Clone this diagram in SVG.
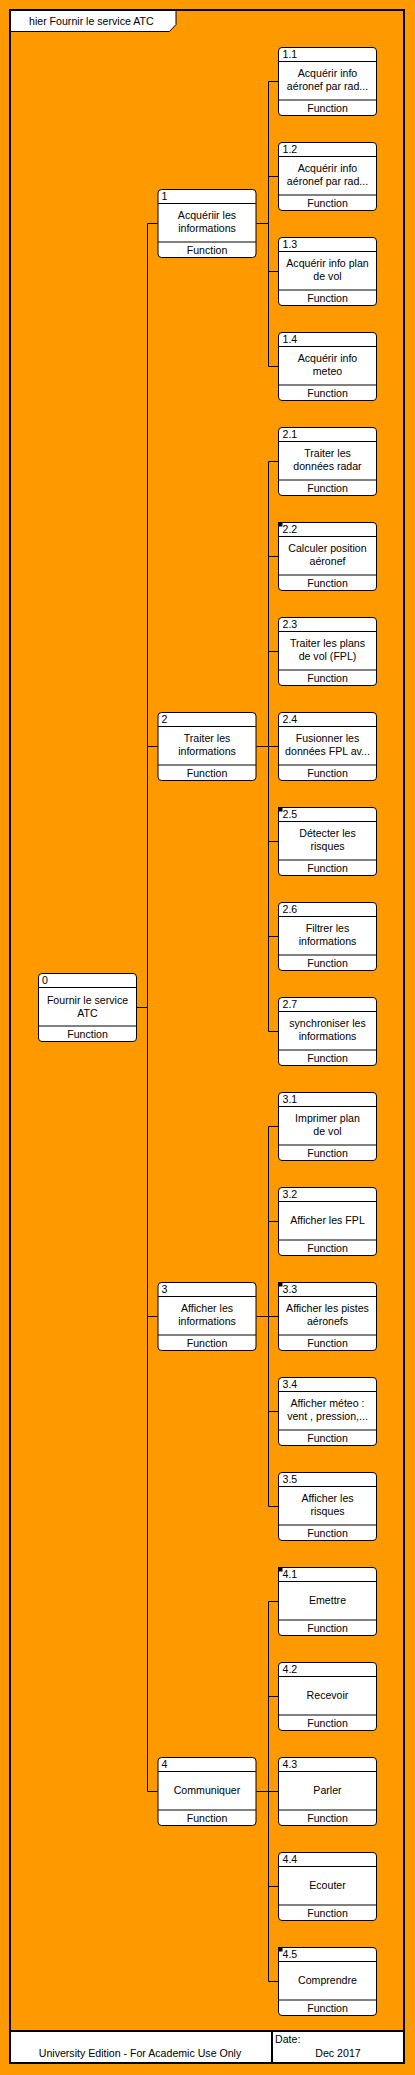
<svg xmlns="http://www.w3.org/2000/svg" width="415" height="2075" viewBox="0 0 415 2075">
<style>
.bg{fill:#FF9900}
.frame{fill:none;stroke:#000;stroke-width:2}
.box{fill:#fff;stroke:#000;stroke-width:1}
.sep{stroke:#000;stroke-width:1}
.t{font-family:"Liberation Sans",Arial,sans-serif;font-size:10.6px;fill:#000}
.c{text-anchor:middle}
.conn{fill:none;stroke:#000;stroke-width:1}
.mk{fill:#000}
</style>
<defs>
<g id="nb">
<rect class="box" x="0.5" y="0.5" width="98" height="68" rx="3.5"/>
<line class="sep" x1="0.5" y1="14.5" x2="98.5" y2="14.5"/>
<line class="sep" x1="0.5" y1="53" x2="98.5" y2="53"/>
<text class="t c" x="49.5" y="65">Function</text>
</g>
<rect id="mark" class="mk" x="0" y="0" width="4.5" height="4.5"/>
</defs>
<rect class="bg" x="0" y="0" width="415" height="2075"/>
<rect class="frame" x="10" y="10" width="394" height="2053"/>
<g id="title">
<path d="M10.5 10.5 H176 V24.5 L169.5 31.5 H10.5 Z" fill="#fff" stroke="#000" stroke-width="1"/>
<text class="t" x="29" y="24.5">hier Fournir le service ATC</text>
</g>
<g id="connectors" class="conn">
<path d="M136.5 1007.5 H147.5 M147.5 223.5 V1791.5 M147.5 223.5 H157.5 M147.5 746.5 H157.5 M147.5 1316.5 H157.5 M147.5 1791.5 H157.5"/>
<path d="M256.5 223.5 H268.5 M268.5 81.5 V366.5 M268.5 81.5 H278.5 M268.5 176.5 H278.5 M268.5 271.5 H278.5 M268.5 366.5 H278.5"/>
<path d="M256.5 746.5 H268.5 M268.5 461.5 V1031.5 M268.5 461.5 H278.5 M268.5 556.5 H278.5 M268.5 651.5 H278.5 M268.5 746.5 H278.5 M268.5 841.5 H278.5 M268.5 936.5 H278.5 M268.5 1031.5 H278.5"/>
<path d="M256.5 1316.5 H268.5 M268.5 1126.5 V1506.5 M268.5 1126.5 H278.5 M268.5 1221.5 H278.5 M268.5 1316.5 H278.5 M268.5 1411.5 H278.5 M268.5 1506.5 H278.5"/>
<path d="M256.5 1791.5 H268.5 M268.5 1601.5 V1981.5 M268.5 1601.5 H278.5 M268.5 1696.5 H278.5 M268.5 1791.5 H278.5 M268.5 1886.5 H278.5 M268.5 1981.5 H278.5"/>
</g>
<g id="n0" transform="translate(38,973)"><use href="#nb"/><text class="t" x="4" y="10.5">0</text><text class="t c" x="49.5" y="31">Fournir le service</text><text class="t c" x="49.5" y="44">ATC</text></g>
<g id="n1" transform="translate(157.5,189)"><use href="#nb"/><text class="t" x="4" y="10.5">1</text><text class="t c" x="49.5" y="30">Acquériir les</text><text class="t c" x="49.5" y="43.3">informations</text></g>
<g id="n2" transform="translate(157.5,712)"><use href="#nb"/><text class="t" x="4" y="10.5">2</text><text class="t c" x="49.5" y="30">Traiter les</text><text class="t c" x="49.5" y="43.3">informations</text></g>
<g id="n3" transform="translate(157.5,1282)"><use href="#nb"/><text class="t" x="4" y="10.5">3</text><text class="t c" x="49.5" y="30">Afficher les</text><text class="t c" x="49.5" y="43.3">informations</text></g>
<g id="n4" transform="translate(157.5,1757)"><use href="#nb"/><text class="t" x="4" y="10.5">4</text><text class="t c" x="49.5" y="37">Communiquer</text></g>
<g id="n1_1" transform="translate(278,47)"><use href="#nb"/><text class="t" x="4.5" y="10.5">1.1</text><text class="t c" x="49.5" y="30">Acquérir info</text><text class="t c" x="49.5" y="43.3">aéronef par rad...</text></g>
<g id="n1_2" transform="translate(278,142)"><use href="#nb"/><text class="t" x="4.5" y="10.5">1.2</text><text class="t c" x="49.5" y="30">Acquérir info</text><text class="t c" x="49.5" y="43.3">aéronef par rad...</text></g>
<g id="n1_3" transform="translate(278,237)"><use href="#nb"/><text class="t" x="4.5" y="10.5">1.3</text><text class="t c" x="49.5" y="30">Acquérir info plan</text><text class="t c" x="49.5" y="43.3">de vol</text></g>
<g id="n1_4" transform="translate(278,332)"><use href="#nb"/><text class="t" x="4.5" y="10.5">1.4</text><text class="t c" x="49.5" y="30">Acquérir info</text><text class="t c" x="49.5" y="43.3">meteo</text></g>
<g id="n2_1" transform="translate(278,427)"><use href="#nb"/><text class="t" x="4.5" y="10.5">2.1</text><text class="t c" x="49.5" y="30">Traiter les</text><text class="t c" x="49.5" y="43.3">données radar</text></g>
<g id="n2_2" transform="translate(278,522)"><use href="#nb"/><use href="#mark"/><text class="t" x="4.5" y="10.5">2.2</text><text class="t c" x="49.5" y="30">Calculer position</text><text class="t c" x="49.5" y="43.3">aéronef</text></g>
<g id="n2_3" transform="translate(278,617)"><use href="#nb"/><text class="t" x="4.5" y="10.5">2.3</text><text class="t c" x="49.5" y="30">Traiter les plans</text><text class="t c" x="49.5" y="43.3">de vol (FPL)</text></g>
<g id="n2_4" transform="translate(278,712)"><use href="#nb"/><text class="t" x="4.5" y="10.5">2.4</text><text class="t c" x="49.5" y="30">Fusionner les</text><text class="t c" x="49.5" y="43.3">données FPL av...</text></g>
<g id="n2_5" transform="translate(278,807)"><use href="#nb"/><use href="#mark"/><text class="t" x="4.5" y="10.5">2.5</text><text class="t c" x="49.5" y="30">Détecter les</text><text class="t c" x="49.5" y="43.3">risques</text></g>
<g id="n2_6" transform="translate(278,902)"><use href="#nb"/><text class="t" x="4.5" y="10.5">2.6</text><text class="t c" x="49.5" y="30">Filtrer les</text><text class="t c" x="49.5" y="43.3">informations</text></g>
<g id="n2_7" transform="translate(278,997)"><use href="#nb"/><text class="t" x="4.5" y="10.5">2.7</text><text class="t c" x="49.5" y="30">synchroniser les</text><text class="t c" x="49.5" y="43.3">informations</text></g>
<g id="n3_1" transform="translate(278,1092)"><use href="#nb"/><text class="t" x="4.5" y="10.5">3.1</text><text class="t c" x="49.5" y="30">Imprimer plan</text><text class="t c" x="49.5" y="43.3">de vol</text></g>
<g id="n3_2" transform="translate(278,1187)"><use href="#nb"/><text class="t" x="4.5" y="10.5">3.2</text><text class="t c" x="49.5" y="37">Afficher les FPL</text></g>
<g id="n3_3" transform="translate(278,1282)"><use href="#nb"/><use href="#mark"/><text class="t" x="4.5" y="10.5">3.3</text><text class="t c" x="49.5" y="30">Afficher les pistes</text><text class="t c" x="49.5" y="43.3">aéronefs</text></g>
<g id="n3_4" transform="translate(278,1377)"><use href="#nb"/><text class="t" x="4.5" y="10.5">3.4</text><text class="t c" x="49.5" y="30">Afficher méteo :</text><text class="t c" x="49.5" y="43.3">vent , pression,...</text></g>
<g id="n3_5" transform="translate(278,1472)"><use href="#nb"/><text class="t" x="4.5" y="10.5">3.5</text><text class="t c" x="49.5" y="30">Afficher les</text><text class="t c" x="49.5" y="43.3">risques</text></g>
<g id="n4_1" transform="translate(278,1567)"><use href="#nb"/><use href="#mark"/><text class="t" x="4.5" y="10.5">4.1</text><text class="t c" x="49.5" y="37">Emettre</text></g>
<g id="n4_2" transform="translate(278,1662)"><use href="#nb"/><text class="t" x="4.5" y="10.5">4.2</text><text class="t c" x="49.5" y="37">Recevoir</text></g>
<g id="n4_3" transform="translate(278,1757)"><use href="#nb"/><text class="t" x="4.5" y="10.5">4.3</text><text class="t c" x="49.5" y="37">Parler</text></g>
<g id="n4_4" transform="translate(278,1852)"><use href="#nb"/><text class="t" x="4.5" y="10.5">4.4</text><text class="t c" x="49.5" y="37">Ecouter</text></g>
<g id="n4_5" transform="translate(278,1947)"><use href="#nb"/><use href="#mark"/><text class="t" x="4.5" y="10.5">4.5</text><text class="t c" x="49.5" y="37">Comprendre</text></g>
<g id="footer">
<rect x="11" y="2031" width="392" height="31" fill="#fff"/>
<line x1="10" y1="2031" x2="404" y2="2031" stroke="#000" stroke-width="2"/>
<line x1="272" y1="2031" x2="272" y2="2063" stroke="#000" stroke-width="2"/>
<text class="t c" x="140" y="2056.5">University Edition - For Academic Use Only</text>
<text class="t" x="275" y="2043">Date:</text>
<text class="t c" x="338" y="2056.5">Dec 2017</text>
</g>
</svg>
